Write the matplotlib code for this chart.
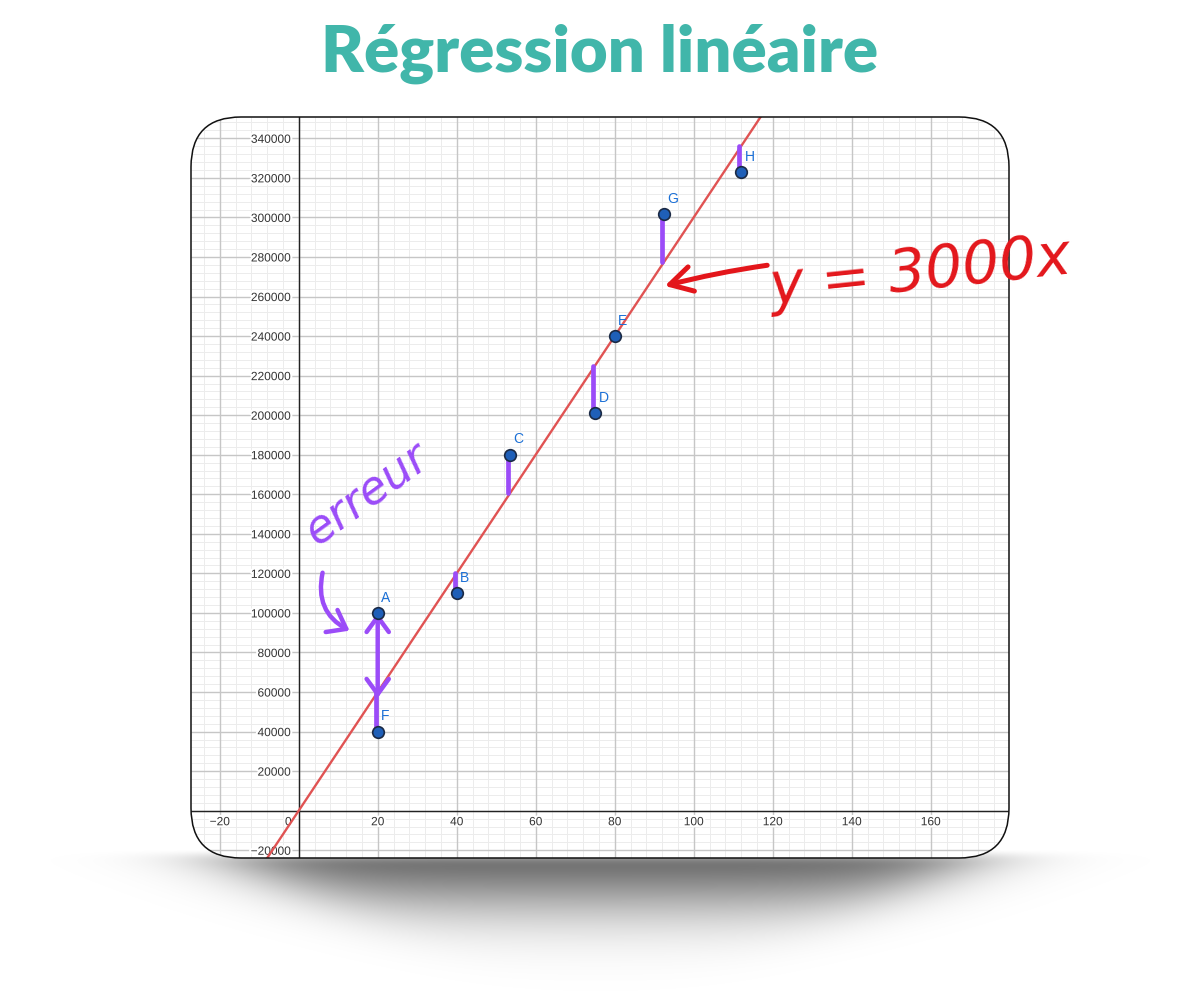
import numpy as np
import matplotlib
matplotlib.use("Agg")
import matplotlib.pyplot as plt
import matplotlib.patheffects as pe
from matplotlib.patches import FancyBboxPatch
from matplotlib.transforms import IdentityTransform
from matplotlib.ticker import FixedLocator, MultipleLocator, FuncFormatter

# ---------------- data ----------------
point_names = ["A", "B", "C", "D", "E", "F", "G", "H"]
x_values = [20, 40, 53.5, 75, 80, 20, 92.5, 112]
y_values = [100000, 110000, 180000, 201000, 240000, 40000, 301500, 323000]
slope = 3000
x_ticks = [-20, 0, 20, 40, 60, 80, 100, 120, 140, 160, 180]
y_ticks = list(range(-20000, 340001, 20000))
title_text = "Régression linéaire"
error_text = "erreur"
equation_text = "y = 3000x"

# ---------------- styles ----------------
W, H = 1200, 999
TEAL = "#41b6aa"
PURPLE = "#9b4cf8"
RED_HAND = "#e3161b"
LINE_RED = "#e05353"
PT_BLUE = "#1f5fb8"
LBL_BLUE = "#1a6fd6"

fig = plt.figure(figsize=(12, 9.99), dpi=100)
fig.patch.set_facecolor("white")

# soft shadow under the card (row 0 = top pixel row)
sh_ax = fig.add_axes([0, 0, 1, 1], zorder=0)
sh_ax.set_axis_off()
px = np.arange(W)[None, :].astype(float)
py = np.arange(H)[:, None].astype(float)
dy = py - 848
dyc = np.clip(dy, 0, None)
halfw = 390 - dyc * 1.9
fx = 1.0 / (1.0 + np.exp((np.abs(px - 600) - halfw) / 38.0))
ramp = 1.0 - np.exp(-(dyc / 9.0) ** 2)
fy = np.where(dy < 0, 0.0, ramp * np.exp(-(dyc / 64.0) ** 2))
alpha = 0.6 * fx * fy
rgba = np.zeros((H, W, 4))
rgba[..., 3] = alpha
sh_ax.imshow(rgba, extent=[0, W, 0, H], origin="upper", aspect="auto",
             interpolation="bilinear")
sh_ax.set_xlim(0, W)
sh_ax.set_ylim(0, H)

# card geometry in pixels
CL, CR, CT, CB = 191, 1009, 117, 858
RAD = 50


def card_patch(**kw):
    return FancyBboxPatch((CL, H - CB), CR - CL, CB - CT,
                          boxstyle=f"round,pad=0,rounding_size={RAD}",
                          transform=IdentityTransform(), **kw)


fig.add_artist(card_patch(facecolor="white", edgecolor="none", zorder=0.5))

ax = fig.add_axes([CL / W, (H - CB) / H, (CR - CL) / W, (CB - CT) / H], zorder=1)
ax.patch.set_visible(False)

px_per_x = 3.95
px_per_y = 1.9776 / 1000
x0_px, y0_px = 298.7, 810.7
xlim = ((CL - x0_px) / px_per_x, (CR - x0_px) / px_per_x)
ylim = (-(CB - y0_px) / px_per_y, (y0_px - CT) / px_per_y)
ax.set_xlim(*xlim)
ax.set_ylim(*ylim)

for s in ("top", "right"):
    ax.spines[s].set_visible(False)
for s in ("left", "bottom"):
    ax.spines[s].set_position(("data", 0))
    ax.spines[s].set_color("#222222")
    ax.spines[s].set_linewidth(1.0)

ax.xaxis.set_major_locator(FixedLocator(x_ticks))
ax.yaxis.set_major_locator(FixedLocator(y_ticks))


def fmt(v, pos):
    if abs(v) < 1e-9:
        return ""
    s = f"{int(round(v))}"
    return s.replace("-", "\u2212")


ax.xaxis.set_major_formatter(FuncFormatter(fmt))
ax.yaxis.set_major_formatter(FuncFormatter(fmt))
ax.tick_params(which="both", length=0)
ax.tick_params(axis="x", pad=4, labelsize=8.6, labelcolor="#333333")
ax.tick_params(axis="y", pad=5.8, labelsize=8.6, labelcolor="#333333")
halo = [pe.withStroke(linewidth=3, foreground="white")]
ax.set_axisbelow(True)

# grid (minor then major), drawn beneath the tick labels
x_minor = MultipleLocator(4).tick_values(*xlim)
y_minor = MultipleLocator(4000).tick_values(*ylim)
x_major = MultipleLocator(20).tick_values(*xlim)
y_major = MultipleLocator(20000).tick_values(*ylim)
grid_arts = [
    ax.vlines(x_minor, *ylim, color="#ececec", linewidth=0.7, zorder=0.1),
    ax.hlines(y_minor, *xlim, color="#ececec", linewidth=0.7, zorder=0.1),
    ax.vlines(x_major, *ylim, color="#c6c6c6", linewidth=1.0, zorder=0.2),
    ax.hlines(y_major, *xlim, color="#c6c6c6", linewidth=1.0, zorder=0.2),
]
ax.set_xlim(*xlim)
ax.set_ylim(*ylim)

ax.annotate("0", xy=(0, 0), xytext=(-7.5, -4), textcoords="offset points",
            ha="center", va="top", fontsize=8.6, color="#333333",
            family="Liberation Sans", path_effects=halo, zorder=0.6)

# regression line
xl = np.array(xlim)
ax.plot(xl, slope * xl, color=LINE_RED, linewidth=1.7, zorder=3)

# residual marks
for name, xv, yv in zip(point_names, x_values, y_values):
    if name == "A":
        continue
    ax.vlines(xv - 0.5, yv, slope * xv, color=PURPLE, linewidth=3.4,
              capstyle="round", zorder=4)

# double arrow A -> line
ax.annotate("", xy=(x_values[0], slope * x_values[0] - 3000),
            xytext=(x_values[0], y_values[0]),
            arrowprops=dict(arrowstyle="<->,head_length=0.55,head_width=0.4",
                            color=PURPLE, lw=3.2, mutation_scale=20,
                            shrinkA=0, shrinkB=0),
            zorder=4)

# points and labels
ax.scatter(x_values, y_values, s=70, c=PT_BLUE, edgecolors="#1b2a45",
           linewidths=1.2, zorder=5)
for name, xv, yv in zip(point_names, x_values, y_values):
    ax.annotate(name, (xv, yv), xytext=(2.5, 6), textcoords="offset points",
                ha="left", va="bottom", fontsize=10, color=LBL_BLUE,
                family="Liberation Sans", zorder=6)

# handwritten annotations
ax.text(17.6, 160000, error_text, color=PURPLE, fontsize=33, rotation=36,
        ha="center", va="center", style="italic", family="DejaVu Sans",
        zorder=6)
ax.annotate("", xy=(13.5, 90400), xytext=(6.2, 121700),
            arrowprops=dict(arrowstyle="->,head_length=0.6,head_width=0.45",
                            connectionstyle="arc3,rad=0.4", color=PURPLE,
                            lw=3.2, mutation_scale=20), zorder=6)
ax.annotate("", xy=(92, 265000), xytext=(119.3, 276000),
            arrowprops=dict(arrowstyle="->,head_length=0.8,head_width=0.45",
                            connectionstyle="arc3,rad=0.03", color=RED_HAND,
                            lw=3.6, mutation_scale=20), zorder=6)
fig.text(157.5, 272000, equation_text, transform=ax.transData,
         color=RED_HAND, fontsize=42, rotation=6, ha="center", va="center",
         style="italic", family="DejaVu Sans", zorder=5)

# card border
fig.add_artist(card_patch(facecolor="none", edgecolor="#111111",
                          linewidth=1.1, zorder=2))

# title
fig.text(0.5, 1 - 72 / H, title_text, ha="center", va="baseline",
         fontsize=47, fontweight="heavy", family="Lato", color=TEAL)

# clip everything in the axes to the rounded card
fig.canvas.draw()
for lab in ax.get_xticklabels() + ax.get_yticklabels():
    lab.set_fontfamily("Liberation Sans")
    lab.set_path_effects(halo)
clip = card_patch(facecolor="none")
ax.xaxis.set_clip_path(clip)
ax.yaxis.set_clip_path(clip)
for t in ax.xaxis.get_major_ticks() + ax.yaxis.get_major_ticks():
    t.label1.set_clip_path(clip)
for art in list(ax.lines) + list(ax.collections) + list(ax.spines.values()):
    art.set_clip_path(clip)

fig.savefig("out.png", dpi=100, facecolor="white")
